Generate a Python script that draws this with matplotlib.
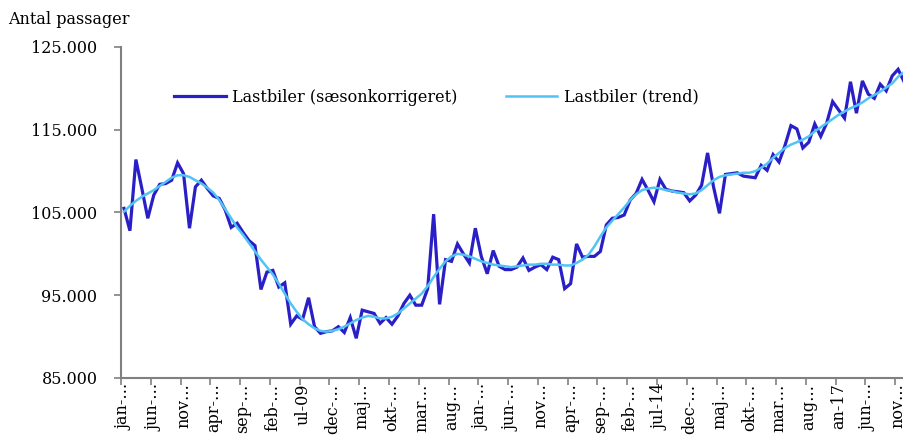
import numpy as np
import matplotlib
matplotlib.use("Agg")
import matplotlib.pyplot as plt

# monthly, jan-07 .. dec-17 (thousands of passengers)
saeson = [105.5, 102.8, 111.4, 107.9, 104.3, 107.1, 108.4, 108.5, 108.9, 111.0,
          109.7, 103.1, 108.1, 108.9, 107.9, 107.0, 106.7, 105.3, 103.2, 103.7,
          102.6, 101.6, 101.0, 95.7, 97.8, 98.0, 96.0, 96.5, 91.5, 92.5,
          92.1, 94.7, 91.2, 90.4, 90.6, 90.7, 91.2, 90.5, 92.3, 89.8,
          93.2, 93.0, 92.8, 91.6, 92.3, 91.5, 92.5, 94.0, 95.0, 93.8,
          93.8, 95.8, 104.8, 93.9, 99.3, 99.1, 101.2, 100.0, 98.9, 103.1,
          99.7, 97.6, 100.4, 98.5, 98.1, 98.1, 98.4, 99.5, 98.0, 98.4,
          98.7, 98.1, 99.6, 99.3, 95.8, 96.4, 101.2, 99.6, 99.7, 99.7,
          100.3, 103.5, 104.3, 104.4, 104.7, 106.5, 107.3, 109.0, 107.7, 106.3,
          109.0, 107.8, 107.6, 107.5, 107.4, 106.4, 107.1, 108.3, 112.2, 108.1,
          104.9, 109.6, 109.7, 109.8, 109.4, 109.3, 109.2, 110.7, 110.1, 112.0,
          111.1, 113.1, 115.5, 115.1, 112.8, 113.5, 115.7, 114.2, 115.8, 118.4,
          117.4, 116.4, 120.8, 117.0, 120.9, 119.3, 118.8, 120.5, 119.7, 121.5,
          122.3, 120.8]

trend = [105.1, 105.8, 106.4, 106.9, 107.3, 107.7, 108.2, 108.7, 109.2, 109.5,
         109.5, 109.3, 108.9, 108.5, 108.0, 107.4, 106.5, 105.4, 104.3, 103.2,
         102.3, 101.3, 100.3, 99.3, 98.4, 97.5, 96.4, 95.2, 94.0, 93.0,
         92.1, 91.5, 91.0, 90.7, 90.6, 90.7, 90.9, 91.2, 91.6, 92.0,
         92.3, 92.5, 92.4, 92.2, 92.2, 92.4, 92.8, 93.4, 94.0, 94.6,
         95.2, 96.1, 97.2, 98.2, 99.1, 99.7, 100.0, 99.9, 99.7, 99.4,
         99.1, 98.9, 98.7, 98.6, 98.5, 98.4, 98.5, 98.6, 98.7, 98.7,
         98.8, 98.8, 98.7, 98.7, 98.6, 98.6, 98.9, 99.3, 99.9, 100.9,
         102.1, 103.2, 104.0, 104.8, 105.6, 106.5, 107.2, 107.7, 107.9, 108.0,
         107.9, 107.7, 107.6, 107.4, 107.3, 107.2, 107.3, 107.7, 108.3, 108.9,
         109.3, 109.5, 109.6, 109.7, 109.8, 109.8, 110.0, 110.4, 110.9, 111.6,
         112.2, 112.8, 113.2, 113.5, 113.8, 114.2, 114.8, 115.3, 115.8, 116.3,
         116.8, 117.2, 117.6, 117.9, 118.3, 118.8, 119.2, 119.6, 120.1, 120.6,
         121.4, 122.0]

tick_labels = ["jan-…", "jun-…", "nov…", "apr-…", "sep-…", "feb-…", "ul-09",
               "dec-…", "maj…", "okt-…", "mar…", "aug…", "jan-…", "jun-…",
               "nov…", "apr-…", "sep-…", "feb-…", "jul-14", "dec-…", "maj…",
               "okt-…", "mar…", "aug…", "an-17", "jun-…", "nov…"]

y_ticks = [85000, 95000, 105000, 115000, 125000]

plt.rcParams['font.family'] = ['DejaVu Serif']

fig = plt.figure(figsize=(9.04, 4.36), dpi=100)
n = len(saeson)
ax = fig.add_axes([121 / 904, 58 / 436, n * 5.955 / 904, 331 / 436])

x = np.arange(n)
ax.plot(x, np.array(saeson) * 1000, color='#2A1FC6', lw=2.3,
        label='Lastbiler (sæsonkorrigeret)', solid_joinstyle='miter')
ax.plot(x, np.array(trend) * 1000, color='#50C4F5', lw=1.8,
        label='Lastbiler (trend)')

ax.set_xlim(-0.5, n - 0.5)
ax.set_ylim(85000, 125000)
ax.set_yticks(y_ticks)
ax.set_yticklabels(['{:,}'.format(v).replace(',', '.') for v in y_ticks], fontsize=11.5)

ax.set_xticks(np.arange(-0.5, n - 0.5, 5))
ax.set_xticklabels([])
ax.set_xticks(np.arange(0, n, 5)[:len(tick_labels)], minor=True)
ax.set_xticklabels(tick_labels, minor=True, rotation=90, fontsize=11.5)
ax.tick_params(axis='x', which='minor', length=0, pad=4)
ax.tick_params(axis='x', which='major', length=5, color='#808080', width=1.2)
ax.tick_params(axis='y', length=5, color='#808080', width=1.2, pad=12)

for s in ['top', 'right']:
    ax.spines[s].set_visible(False)
for s in ['left', 'bottom']:
    ax.spines[s].set_color('#808080')
    ax.spines[s].set_linewidth(1.5)

ax.legend(loc='center left', bbox_to_anchor=(166 / 904, 1 - 97 / 436),
          bbox_transform=fig.transFigure, ncol=2, frameon=False, fontsize=11.5,
          handlelength=3.25, handletextpad=0.4, columnspacing=3.0, borderpad=0)

fig.text(8 / 904, 1 - 19 / 436, 'Antal passager', fontsize=11.5, va='center', ha='left')

fig.savefig('out.png', dpi=100)
